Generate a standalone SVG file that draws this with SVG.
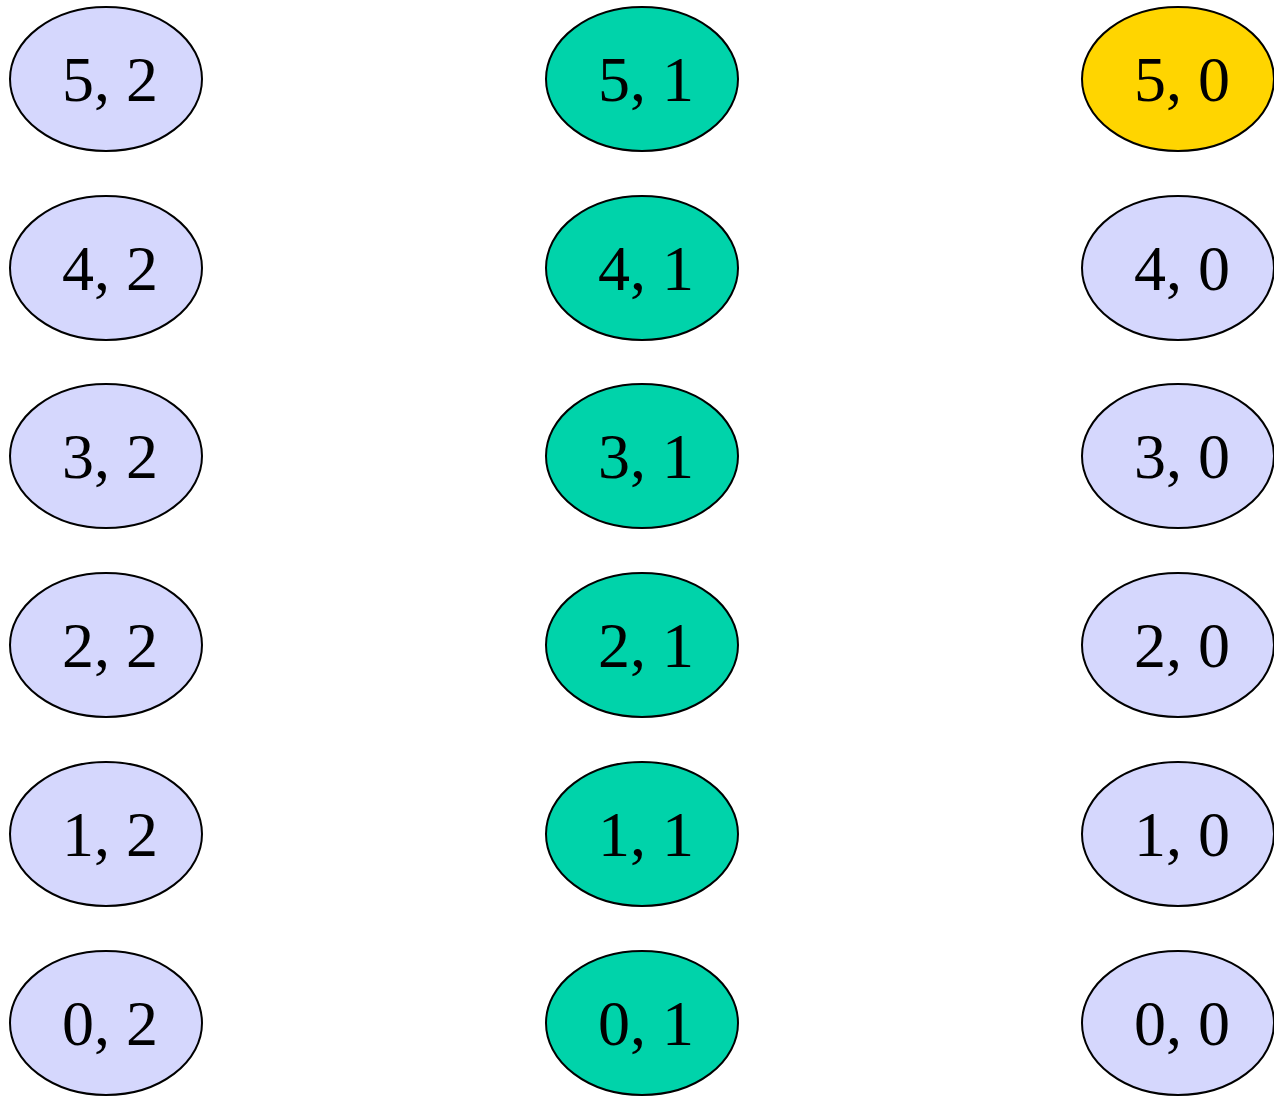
<svg xmlns="http://www.w3.org/2000/svg" width="1274" height="1096" viewBox="0 0 1274 1096">
<style>
.n ellipse{stroke:#000;stroke-width:2}
.a ellipse{fill:#d5d7fd}
.b ellipse{fill:#00d3aa}
.c ellipse{fill:#ffd500}
.n text{font-family:"Liberation Serif","Times New Roman",serif;font-size:64px;text-anchor:middle;fill:#000}
</style>
<rect width="1274" height="1096" fill="#fff"/>
<g id="connectors"/>
<g id="n52" class="n a"><ellipse cx="106" cy="79" rx="96" ry="72"/><text x="110" y="101">5, 2</text></g>
<g id="n42" class="n a"><ellipse cx="106" cy="268" rx="96" ry="72"/><text x="110" y="290">4, 2</text></g>
<g id="n32" class="n a"><ellipse cx="106" cy="456" rx="96" ry="72"/><text x="110" y="478">3, 2</text></g>
<g id="n22" class="n a"><ellipse cx="106" cy="645" rx="96" ry="72"/><text x="110" y="667">2, 2</text></g>
<g id="n12" class="n a"><ellipse cx="106" cy="834" rx="96" ry="72"/><text x="110" y="856">1, 2</text></g>
<g id="n02" class="n a"><ellipse cx="106" cy="1023" rx="96" ry="72"/><text x="110" y="1045">0, 2</text></g>
<g id="n51" class="n b"><ellipse cx="642" cy="79" rx="96" ry="72"/><text x="646" y="101">5, 1</text></g>
<g id="n41" class="n b"><ellipse cx="642" cy="268" rx="96" ry="72"/><text x="646" y="290">4, 1</text></g>
<g id="n31" class="n b"><ellipse cx="642" cy="456" rx="96" ry="72"/><text x="646" y="478">3, 1</text></g>
<g id="n21" class="n b"><ellipse cx="642" cy="645" rx="96" ry="72"/><text x="646" y="667">2, 1</text></g>
<g id="n11" class="n b"><ellipse cx="642" cy="834" rx="96" ry="72"/><text x="646" y="856">1, 1</text></g>
<g id="n01" class="n b"><ellipse cx="642" cy="1023" rx="96" ry="72"/><text x="646" y="1045">0, 1</text></g>
<g id="n50" class="n c"><ellipse cx="1178" cy="79" rx="96" ry="72"/><text x="1182" y="101">5, 0</text></g>
<g id="n40" class="n a"><ellipse cx="1178" cy="268" rx="96" ry="72"/><text x="1182" y="290">4, 0</text></g>
<g id="n30" class="n a"><ellipse cx="1178" cy="456" rx="96" ry="72"/><text x="1182" y="478">3, 0</text></g>
<g id="n20" class="n a"><ellipse cx="1178" cy="645" rx="96" ry="72"/><text x="1182" y="667">2, 0</text></g>
<g id="n10" class="n a"><ellipse cx="1178" cy="834" rx="96" ry="72"/><text x="1182" y="856">1, 0</text></g>
<g id="n00" class="n a"><ellipse cx="1178" cy="1023" rx="96" ry="72"/><text x="1182" y="1045">0, 0</text></g>
</svg>
